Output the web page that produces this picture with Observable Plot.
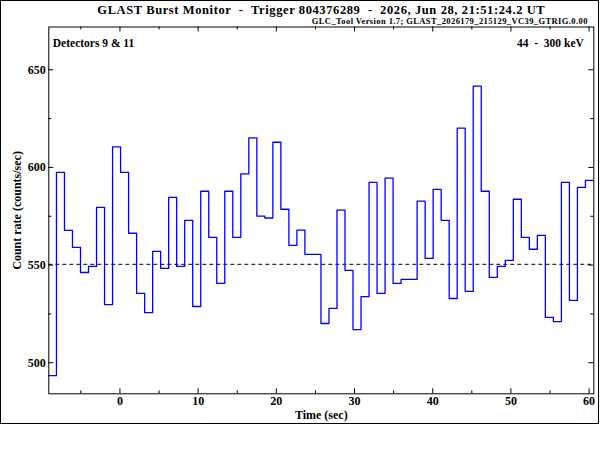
<!DOCTYPE html>
<html><head><meta charset="utf-8">
<script src="https://cdn.jsdelivr.net/npm/d3@7"></script>
<script src="https://cdn.jsdelivr.net/npm/@observablehq/plot@0.6"></script>
<style>
body{margin:0;background:#fff;}
#wrap{position:relative;width:600px;height:450px;}
#border{position:absolute;left:0;top:0;width:599px;height:424px;border:1px solid #000;box-sizing:border-box;pointer-events:none;}
</style></head><body><div id="wrap"><div id="border"></div></div>
<script>
// Bin start times (s), 1.025 s bins
const binStarts = [-9.145, -8.12, -7.095, -6.07, -5.045, -4.02, -2.995, -1.97, -0.945, 0.08,
  1.105, 2.13, 3.155, 4.18, 5.205, 6.23, 7.255, 8.28, 9.305, 10.33,
  11.355, 12.38, 13.405, 14.43, 15.455, 16.48, 17.505, 18.53, 19.555, 20.58,
  21.605, 22.63, 23.655, 24.68, 25.705, 26.73, 27.755, 28.78, 29.805, 30.83,
  31.855, 32.88, 33.905, 34.93, 35.955, 36.98, 38.005, 39.03, 40.055, 41.08,
  42.105, 43.13, 44.155, 45.18, 46.205, 47.23, 48.255, 49.28, 50.305, 51.33,
  52.355, 53.38, 54.405, 55.43, 56.455, 57.48, 58.505, 59.53];
const binEnd = 60.555;
// Count rate (counts/sec)
const counts = [493.4, 597.5, 567.8, 559.1, 546.2, 549.3, 579.6, 529.8, 610.5, 597.5,
  566.3, 535.5, 525.7, 557.0, 548.3, 584.7, 549.3, 572.9, 528.8, 587.8,
  564.2, 540.6, 587.8, 564.2, 596.7, 615.1, 575.1, 574.1, 612.9, 578.6,
  560.1, 567.9, 555.5, 555.5, 520.1, 527.8, 578.1, 547.3, 517.0, 533.9,
  592.4, 535.5, 594.5, 540.6, 542.7, 542.7, 582.7, 553.4, 588.8, 572.9,
  532.9, 620.1, 536.5, 641.6, 587.8, 543.7, 549.3, 552.4, 583.7, 564.2,
  558.1, 565.2, 523.2, 521.1, 592.4, 531.9, 589.8, 593.4];
const background = [550.4];
const xMajor = [0, 10, 20, 30, 40, 50, 60];
const xMinor = [-5, 5, 15, 25, 35, 45, 55];
const yMajor = [500, 550, 600, 650];
const yMinor = [525, 575, 625];
const titleText = ["GLAST Burst Monitor\u00a0\u00a0-\u00a0\u00a0Trigger 804376289\u00a0\u00a0-\u00a0\u00a02026, Jun 28, 21:51:24.2 UT"];
const subtitleText = ["GLC_Tool Version 1.7; GLAST_2026179_215129_VC39_GTRIG.0.00"];
const detText = ["Detectors 9 & 11"];
const energyText = ["44\u00a0\u00a0-\u00a0\u00a0300 keV"];
const xLabel = ["Time (sec)"];
const yLabel = ["Count rate (counts/sec)"];

const stepData = binStarts.map((t, i) => ({t, c: counts[i]}));
stepData.push({t: binEnd, c: counts[counts.length - 1]});

const W = 600, H = 450, mL = 48.3, mR = 6.7, mT = 26.5, mB = 56.7;
const plotW = W - mL - mR, plotH = H - mT - mB;
const font = "'Liberation Serif', 'DejaVu Serif', serif";

const chart = Plot.plot({
  width: W, height: H,
  marginLeft: mL, marginRight: mR, marginTop: mT, marginBottom: mB,
  style: {fontFamily: font, fontWeight: "bold", background: "transparent", color: "#000"},
  x: {domain: [-9.1, 60.6], label: null},
  y: {domain: [484.1, 671.9], label: null},
  marks: [
    Plot.ruleY(background, {y: d => d, stroke: "#000", strokeWidth: 1, strokeDasharray: "4,3"}),
    Plot.line(stepData, {x: "t", y: "c", curve: "step-after", stroke: "#0000ff", strokeWidth: 1.3, clip: true}),
    Plot.frame({stroke: "#000", strokeWidth: 1}),
    Plot.tickX(xMajor, {x: d => d, insetTop: plotH - 5, stroke: "#000"}),
    Plot.tickX(xMinor, {x: d => d, insetTop: plotH - 3, stroke: "#000"}),
    Plot.tickX(xMajor, {x: d => d, insetBottom: plotH - 5, stroke: "#000"}),
    Plot.tickX(xMinor, {x: d => d, insetBottom: plotH - 3, stroke: "#000"}),
    Plot.tickY(yMajor, {y: d => d, insetRight: plotW - 5, stroke: "#000"}),
    Plot.tickY(yMinor, {y: d => d, insetRight: plotW - 3, stroke: "#000"}),
    Plot.tickY(yMajor, {y: d => d, insetLeft: plotW - 5, stroke: "#000"}),
    Plot.tickY(yMinor, {y: d => d, insetLeft: plotW - 3, stroke: "#000"}),
    Plot.axisX(xMajor, {tickSize: 0, tickPadding: 3, fontSize: 12, label: null}),
    Plot.axisY(yMajor, {tickSize: 0, tickPadding: 3, fontSize: 12, label: null}),
    Plot.text(titleText, {text: d => d, frameAnchor: "top", dy: -17, lineAnchor: "middle", fontSize: 12.5}),
    Plot.text(subtitleText, {text: d => d, frameAnchor: "top-right", textAnchor: "end", dx: -6, dy: -6, lineAnchor: "middle", fontSize: 8.5}),
    Plot.text(detText, {text: d => d, frameAnchor: "top-left", textAnchor: "start", dx: 4, dy: 16, lineAnchor: "middle", fontSize: 11.5}),
    Plot.text(energyText, {text: d => d, frameAnchor: "top-right", textAnchor: "end", dx: -10, dy: 16, lineAnchor: "middle", fontSize: 11.5}),
    Plot.text(xLabel, {text: d => d, frameAnchor: "bottom", dy: 21, lineAnchor: "middle", fontSize: 12}),
    Plot.text(yLabel, {text: d => d, frameAnchor: "left", textAnchor: "middle", dx: -32, rotate: -90, lineAnchor: "middle", fontSize: 12})
  ]
});
d3.select(chart).selectAll("text")
  .filter(function() { return this.textContent === titleText[0]; })
  .attr("letter-spacing", "0.6px");
d3.select(chart).selectAll("text")
  .filter(function() { return this.textContent === subtitleText[0]; })
  .attr("letter-spacing", "0.4px");
chart.style.position = "absolute";
chart.style.left = "0";
chart.style.top = "0";
document.getElementById("wrap").appendChild(chart);
</script>
</body></html>
